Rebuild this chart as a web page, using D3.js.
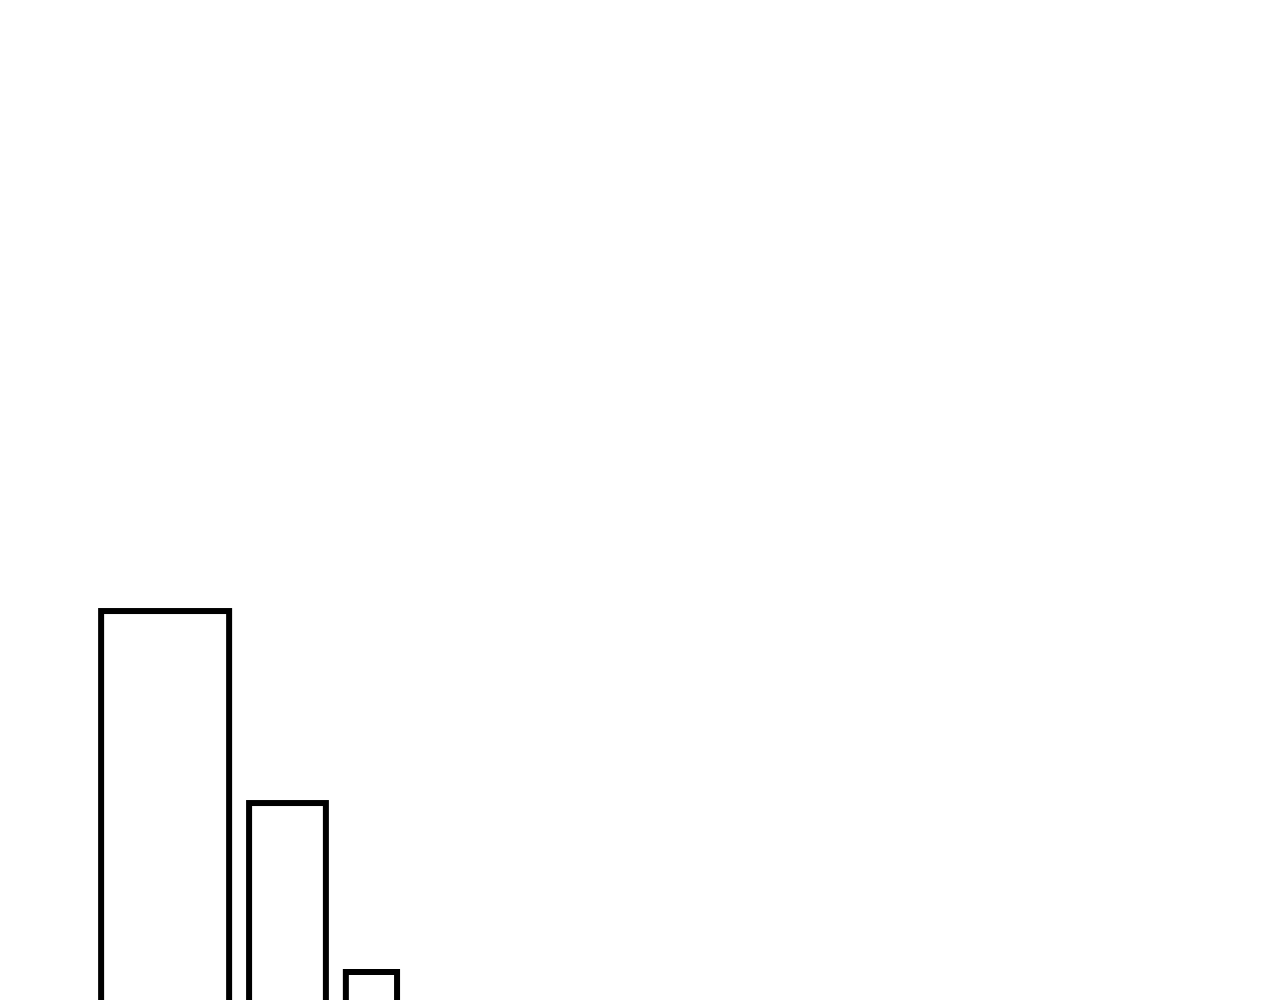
<!DOCTYPE html>
<html>
<head>
<meta charset="utf-8">
<script src="https://cdn.jsdelivr.net/npm/d3@7"></script>
<style>
  html, body { margin: 0; padding: 0; background: #fff; overflow: hidden; }
</style>
</head>
<body>
<svg id="chart" width="1280" height="1000"></svg>
<script>
// bars (in chart units)
const categories = ["A", "B", "C"];
const values = [19.1, 11.6, 5.0];
const barWidths = [5, 3, 2];

const width = 1280, height = 1000;
const startX = 3.95;   // left edge of first bar, in x units
const gap = 0.78;      // space between bars, in x units

const svg = d3.select("#chart");

// both axes share the same unit size; baseline sits below the visible area
const xScale = d3.scaleLinear().domain([0, 50]).range([0, width]);
const yScale = d3.scaleLinear().domain([0, 40]).range([1100, 76]);

// cumulative starts
let starts = [];
let pos = startX;
barWidths.forEach(w => { starts.push(pos); pos += w + gap; });

const bars = categories.map((c, i) => ({
  name: c, value: values[i], x0: starts[i], w: barWidths[i]
}));

svg.selectAll(".bar")
  .data(bars)
  .join("rect")
  .attr("class", "bar")
  .attr("x", d => xScale(d.x0))
  .attr("width", d => xScale(d.x0 + d.w) - xScale(d.x0))
  .attr("y", d => yScale(d.value))
  .attr("height", d => yScale(0) - yScale(d.value))
  .attr("fill", "#fff")
  .attr("stroke", "#000")
  .attr("stroke-width", 6);
</script>
</body>
</html>
